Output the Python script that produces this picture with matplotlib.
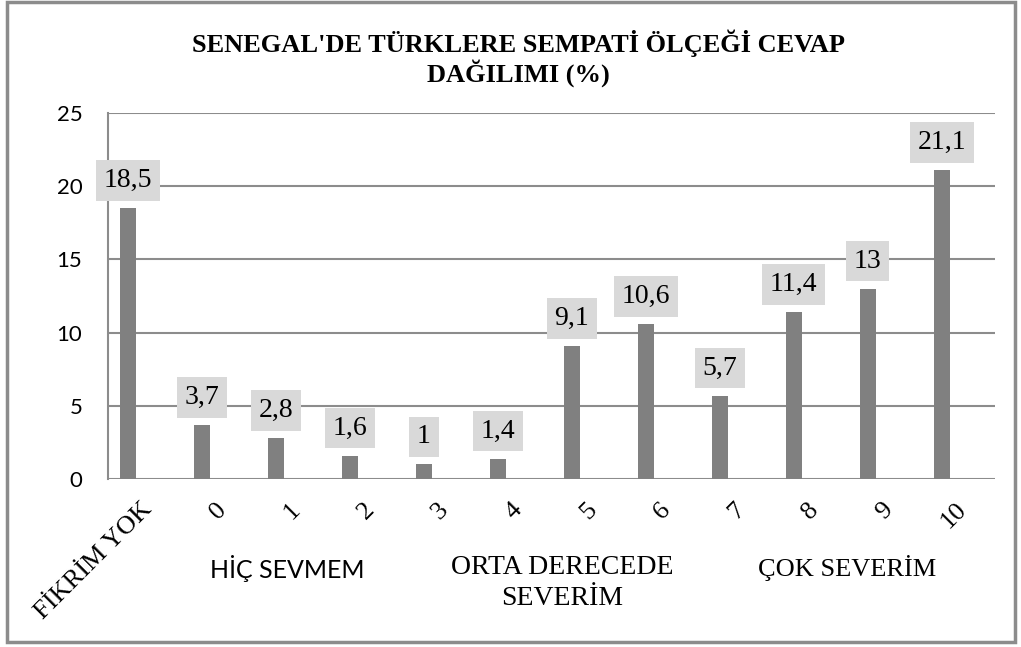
import matplotlib.pyplot as plt
import numpy as np
from matplotlib.patches import Rectangle

categories = ["FİKRİM YOK", "0", "1", "2", "3", "4", "5", "6", "7", "8", "9", "10"]
values = [18.5, 3.7, 2.8, 1.6, 1.0, 1.4, 9.1, 10.6, 5.7, 11.4, 13.0, 21.1]
value_labels = ["18,5", "3,7", "2,8", "1,6", "1", "1,4", "9,1", "10,6", "5,7", "11,4", "13", "21,1"]
yticks = [0, 5, 10, 15, 20, 25]

W, H = 1021, 647
fig = plt.figure(figsize=(W / 100, H / 100), dpi=100)
ax = fig.add_axes([108 / W, 1 - 479 / H, (995 - 108) / W, (479 - 113) / H])

serif = "Liberation Serif"
sans = "Lato"
grey = "#8c8c8c"

x = np.arange(len(categories))
ax.bar(x, values, width=16 / 74, color="#808080", zorder=3)

ax.set_xlim(-0.27, 11.72)
ax.set_ylim(0, 25)
ax.set_yticks(yticks)
ax.set_yticklabels([str(t) for t in yticks], fontfamily=sans, fontsize=16)
ax.tick_params(axis="y", length=0, pad=18.5)
ax.yaxis.grid(True, color=grey, linewidth=1.5, zorder=0)
ax.set_axisbelow(True)
for s in ["top", "right", "bottom"]:
    ax.spines[s].set_visible(False)
ax.spines["left"].set_color(grey)
ax.spines["left"].set_linewidth(1.5)

# labels sit a little right of the bars, like the excel layout
ax.set_xticks(x + 0.18)
ax.set_xticklabels(categories, rotation=45, ha="right", va="top",
                   rotation_mode="anchor", fontfamily=serif, fontsize=19)
ax.tick_params(axis="x", length=0, pad=14)

pad_px = 6
for xi, v, lab in zip(x, values, value_labels):
    ax.annotate(lab, (xi, v), xytext=(0, (9 + pad_px) * 0.72), textcoords="offset points",
                ha="center", va="bottom", fontfamily=serif, fontsize=20, zorder=4,
                bbox=dict(boxstyle="square,pad=0.28", fc="#d9d9d9", ec="none"))

fig.text(518 / W, 1 - 58 / H, "SENEGAL'DE TÜRKLERE SEMPATİ ÖLÇEĞİ CEVAP\nDAĞILIMI (%)",
         ha="center", va="center", fontfamily=serif, fontweight="bold", fontsize=19,
         linespacing=1.1)

fig.text(287 / W, 1 - 568 / H, "HİÇ SEVMEM", ha="center", va="center",
         fontfamily=sans, fontsize=18)
fig.text(562 / W, 1 - 583 / H, "ORTA DERECEDE\nSEVERİM", ha="center", va="center",
         fontfamily=serif, fontsize=20, linespacing=1.3)
fig.text(847 / W, 1 - 568 / H, "ÇOK SEVERİM", ha="center", va="center",
         fontfamily=serif, fontsize=19)

fig.patches.append(Rectangle((7 / W, 1 - 642 / H), (1015 - 7) / W, (642 - 2) / H,
                             transform=fig.transFigure, fill=False, ec=grey, lw=2.5))

fig.savefig("out.png", dpi=100)
